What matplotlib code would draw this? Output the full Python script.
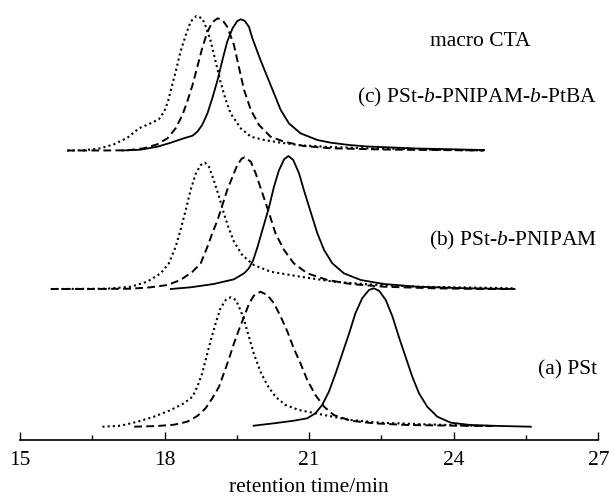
"""GPC traces of PSt macro-CTA and the derived block copolymers."""

import matplotlib

matplotlib.use("Agg")
import matplotlib.pyplot as plt
from matplotlib.ticker import MultipleLocator

plt.rcParams["font.family"] = ["Liberation Serif", "DejaVu Serif"]
plt.rcParams["mathtext.fontset"] = "custom"
plt.rcParams["mathtext.it"] = "Liberation Serif:italic"
plt.rcParams["mathtext.rm"] = "Liberation Serif"

# retention time (min) and detector signal (a.u.) for each trace
# (a) PSt
a_dot_t = [16.71, 17.09, 17.44, 17.78, 18.13, 18.40, 18.58, 18.68, 18.78, 18.87,
           18.96, 19.06, 19.16, 19.27, 19.37, 19.48, 19.58, 19.65, 19.75, 19.85,
           19.99, 20.13, 20.30, 20.51, 20.79, 21.38, 21.86, 22.48, 23.38, 24.42, 24.77]
a_dot_s = [0.3, 1.3, 5.3, 10.3, 17, 23.7, 30.3, 40.3, 53.7, 70.3,
           87, 103.7, 118.7, 127, 129.7, 127, 116.3, 107, 90.3, 73.7,
           55.3, 42, 30.3, 22, 17, 11.3, 7, 4.3, 2.7, 1.3, 1]
a_dash_t = [17.37, 17.85, 18.20, 18.47, 18.68, 18.85, 18.99, 19.13, 19.23, 19.34,
            19.44, 19.54, 19.65, 19.75, 19.85, 19.99, 20.13, 20.27, 20.41, 20.55,
            20.68, 20.82, 20.96, 21.13, 21.31, 21.51, 21.86, 22.34, 23.04, 24.07, 24.83]
a_dash_s = [0.3, 1, 2.3, 5.3, 11, 18.7, 28.7, 40.3, 53.7, 68.7,
            83.7, 97, 110.3, 123, 131.3, 135.3, 132, 123.7, 110.3, 95.3,
            78.7, 63.7, 47, 32, 20.3, 12, 6.3, 3.7, 2, 1.3, 1]
a_solid_t = [19.85, 20.27, 20.68, 20.96, 21.13, 21.27, 21.41, 21.55, 21.69, 21.83,
             21.96, 22.10, 22.24, 22.34, 22.45, 22.59, 22.73, 22.86, 23.00, 23.14,
             23.28, 23.45, 23.66, 23.94, 24.35, 24.97, 25.60]
a_solid_s = [1.3, 3.7, 6.3, 8.7, 13.7, 22, 35.3, 53.7, 73.7, 93.7,
             113.7, 128.7, 137, 138.7, 136.3, 127, 110.3, 90.3, 70.3, 50.3,
             33.7, 20.3, 10.3, 4.3, 2, 1, 0.3]

# (b) PSt-b-PNIPAM
b_dot_t = [15.64, 16.81, 17.30, 17.64, 17.92, 18.09, 18.23, 18.33, 18.44, 18.54,
           18.65, 18.75, 18.84, 18.92, 19.02, 19.13, 19.22, 19.32, 19.44, 19.61,
           19.85, 20.20, 20.82, 21.51, 22.21, 23.24, 25.28]
b_dot_s = [0, 0.3, 2.3, 7.3, 15.7, 25.7, 42.3, 59, 79, 99,
           115.7, 124, 126.3, 122.3, 109, 92.3, 77.3, 62.3, 47.3, 34,
           24, 17.3, 12.3, 7.3, 4.7, 2.3, 0.7]
b_dash_t = [15.64, 16.47, 17.30, 17.71, 18.06, 18.33, 18.58, 18.75, 18.89, 18.99,
            19.10, 19.20, 19.30, 19.41, 19.51, 19.60, 19.66, 19.79, 19.89, 20.03,
            20.17, 20.30, 20.48, 20.68, 20.96, 21.38, 21.86, 22.55, 23.59, 24.63, 25.28]
b_dash_s = [0, 0, 0.3, 1.7, 4, 9, 17.3, 25.7, 42.3, 55.7,
            69, 84, 99, 112.3, 124, 130.3, 131.7, 127.3, 115.7, 95.7,
            75.7, 55.7, 39, 25.7, 15.7, 9, 5, 2.3, 0.7, 0, 0]
b_solid_t = [18.13, 18.54, 19.02, 19.44, 19.65, 19.75, 19.84, 19.93, 20.06, 20.17,
             20.27, 20.37, 20.48, 20.57, 20.67, 20.79, 20.89, 21.03, 21.17, 21.31,
             21.48, 21.72, 22.07, 22.55, 23.24, 24.28, 25.25]
b_solid_s = [0, 1.7, 5, 9.7, 15.7, 20.7, 29, 42.3, 64, 82.3,
             102.3, 118.3, 129.7, 133, 129, 115.7, 99, 77.3, 55.7, 39,
             25.7, 15.7, 9, 5, 2.3, 0.7, 0]

# (c) PSt-b-PNIPAM-b-PtBA
c_dot_t = [15.98, 16.33, 16.67, 16.95, 17.23, 17.47, 17.71, 17.88, 17.99, 18.07,
           18.14, 18.23, 18.33, 18.44, 18.54, 18.66, 18.78, 18.87, 18.96, 19.06,
           19.16, 19.27, 19.37, 19.58, 19.79, 20.07, 20.41, 20.82, 21.45, 22.21,
           23.24, 24.63]
c_dot_s = [0, 0.2, 2.2, 6.2, 12.8, 22.2, 27.2, 31.2, 38.8, 48.8,
           62.2, 78.8, 98.8, 115.5, 128.8, 134.5, 132.2, 122.2, 108.8, 88.8,
           68.8, 50.5, 37.2, 22.2, 13.8, 10.5, 7.8, 5.2, 3.5, 2.2,
           1.2, 0]
c_dash_t = [15.98, 16.67, 17.23, 17.57, 17.85, 18.06, 18.23, 18.37, 18.47, 18.58,
            18.68, 18.78, 18.89, 18.99, 19.10, 19.20, 19.30, 19.44, 19.54, 19.65,
            19.79, 19.96, 20.20, 20.48, 20.89, 21.45, 22.55, 24.63]
c_dash_s = [0, 0, 0.2, 2.2, 6.2, 12.2, 22.2, 35.5, 48.8, 65.5,
            83.8, 102.2, 118.8, 128.2, 132.2, 130.5, 123.8, 105.5, 83.8, 60.5,
            40.5, 25.5, 13.8, 8.8, 4.5, 2.2, 1.0, 0]
c_solid_t = [17.12, 17.50, 17.85, 18.13, 18.40, 18.58, 18.68, 18.78, 18.89, 18.99,
             19.10, 19.20, 19.30, 19.41, 19.51, 19.58, 19.66, 19.75, 19.82, 19.99,
             20.13, 20.27, 20.41, 20.58, 20.82, 21.17, 21.45, 21.83, 22.21, 23.24,
             24.63]
c_solid_s = [0, 0.8, 3.8, 7.8, 12.2, 14.8, 18.8, 25.5, 37.2, 52.2,
             70.5, 90.5, 108.8, 122.2, 129.5, 131.2, 129.8, 123.8, 112.5, 90.5,
             73.8, 57.2, 40.5, 27.2, 17.2, 10.5, 7.8, 5.5, 4.0, 2.0,
             0.5]

# vertical stacking of the three sample groups
offsets = {"a": 13, "b": 151, "c": 289.5}
labels = {
    "a": "(a) PSt",
    "b": "(b) PSt-$b$-PNIPAM",
    "c": "(c) PSt-$b$-PNIPAM-$b$-PtBA",
}
label_y = {"a": 70, "b": 200, "c": 343}

traces = {
    "a": [(a_dot_t, a_dot_s, "dot"), (a_dash_t, a_dash_s, "dash"), (a_solid_t, a_solid_s, "solid")],
    "b": [(b_dot_t, b_dot_s, "dot"), (b_dash_t, b_dash_s, "dash"), (b_solid_t, b_solid_s, "solid")],
    "c": [(c_dot_t, c_dot_s, "dot"), (c_dash_t, c_dash_s, "dash"), (c_solid_t, c_solid_s, "solid")],
}
styles = {
    "dot": dict(linestyle=(0, (1.0, 1.5)), lw=1.5),
    "dash": dict(linestyle=(0, (4.0, 2.2)), lw=1.4),
    "solid": dict(linestyle="-", lw=1.3),
}
FS = 15.5

fig = plt.figure(figsize=(6.09, 5.0), dpi=100)
ax = fig.add_axes([20 / 609, 60 / 500, 578.3 / 609, 440 / 500])

for key, group in traces.items():
    for t, s, kind in group:
        ax.plot(t, [v + offsets[key] for v in s], color="black", **styles[kind])
    ax.text(26.97, label_y[key], labels[key], ha="right", va="center", fontsize=FS)

ax.text(24.56, 398, "macro CTA", ha="center", va="center", fontsize=FS)

ax.set_xlim(15, 27)
ax.set_ylim(0, 440)
ax.xaxis.set_major_locator(MultipleLocator(3))
ax.xaxis.set_minor_locator(MultipleLocator(1.5))
ax.tick_params(axis="x", which="major", direction="in", length=6, width=1, labelsize=FS, pad=8)
ax.tick_params(axis="x", which="minor", direction="in", length=3.5, width=1)
ax.set_yticks([])
for side in ("top", "left", "right"):
    ax.spines[side].set_visible(False)
ax.spines["bottom"].set_linewidth(1.2)
ax.set_xlabel("retention time/min", fontsize=FS, labelpad=6)
ax.patch.set_alpha(0)

fig.savefig("out.png", dpi=100)
